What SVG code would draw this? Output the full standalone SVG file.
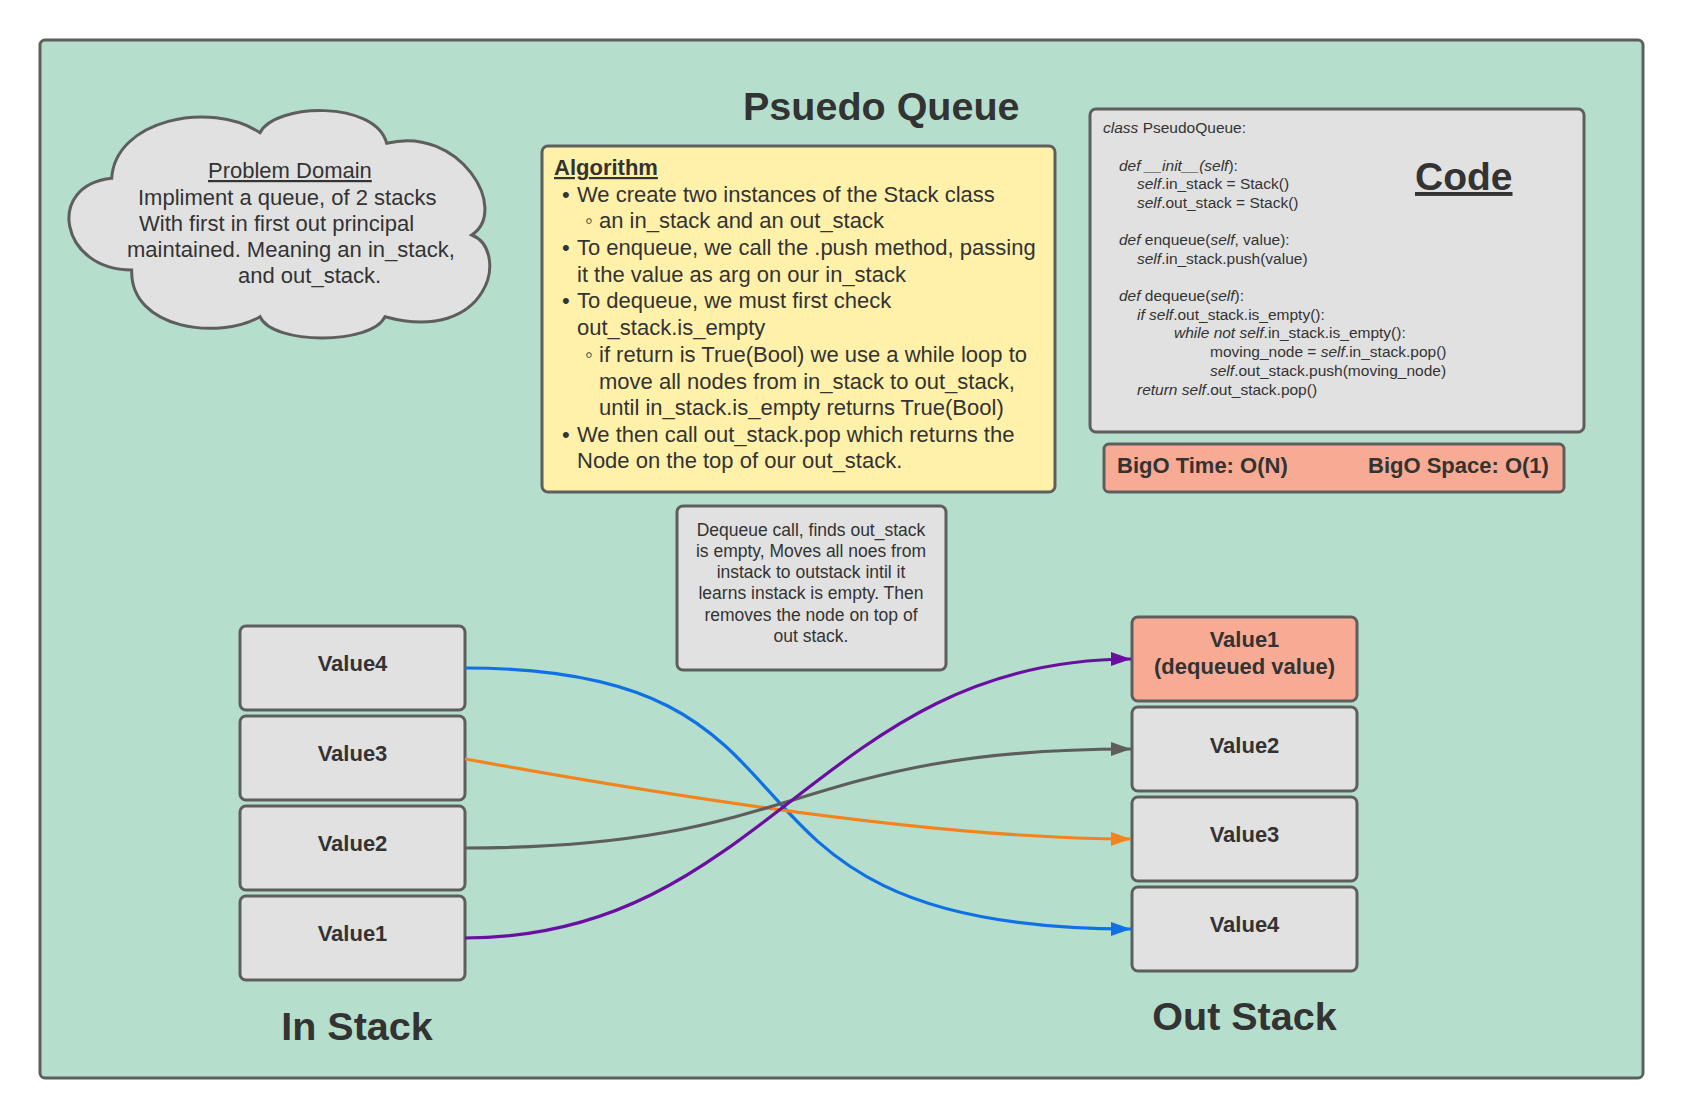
<svg xmlns="http://www.w3.org/2000/svg" width="1683" height="1118" viewBox="0 0 1683 1118">
<style>
text{font-family:"Liberation Sans",Arial,sans-serif;fill:#333333}
.box{fill:#e1e1e1;stroke:#5e5e5e;stroke-width:3}
.val{font-size:22px;font-weight:bold;text-anchor:middle}
.alg{font-size:22px}
.pd{font-size:22px}
.code{font-size:15.5px}
.note{font-size:17.5px;text-anchor:middle}
.big{font-size:39.5px;font-weight:bold;text-anchor:middle}
.con{fill:none;stroke-width:3.2}
.it{font-style:italic}
</style>
<defs>
<marker id="mBlue" markerUnits="userSpaceOnUse" markerWidth="22" markerHeight="16" refX="20" refY="7" orient="auto"><path d="M0,0 L20,7 L0,14 Z" fill="#1071e5"/></marker>
<marker id="mPurple" markerUnits="userSpaceOnUse" markerWidth="22" markerHeight="16" refX="20" refY="7" orient="auto"><path d="M0,0 L20,7 L0,14 Z" fill="#6a0fa0"/></marker>
<marker id="mGray" markerUnits="userSpaceOnUse" markerWidth="22" markerHeight="16" refX="20" refY="7" orient="auto"><path d="M0,0 L20,7 L0,14 Z" fill="#5e5e5e"/></marker>
<marker id="mOrange" markerUnits="userSpaceOnUse" markerWidth="22" markerHeight="16" refX="20" refY="7" orient="auto"><path d="M0,0 L20,7 L0,14 Z" fill="#f28420"/></marker>
</defs>
<rect width="1683" height="1118" fill="#ffffff"/>
<g id="frame"><rect x="40" y="40" width="1603" height="1038" rx="5" fill="#b5dfcc" stroke="#5e5e5e" stroke-width="3"/></g>

<g id="title"><text x="743" y="120" font-size="39.5" font-weight="bold" fill="#2e2e2e">Psuedo Queue</text></g>

<g id="problem-domain">
<path class="box" d="M131.7,270 C60,270 45,185 111.7,178.3 C115,120 210,100 260,132.7 C275,103 375,100 386.7,143.3 C460,125 510,210 471.7,235 C510,250 490,345 385,316.7 C372,345 272,345 260,316.7 C220,340 130,330 131.7,270 Z"/>
<text x="208" y="178" class="pd" text-decoration="underline">Problem Domain</text>
<text x="138" y="205" class="pd">Impliment a queue, of 2 stacks</text>
<text x="139" y="231" class="pd">With first in first out principal</text>
<text x="127" y="257" class="pd">maintained. Meaning an in_stack,</text>
<text x="238" y="283" class="pd">and out_stack.</text>
</g>

<g id="algorithm">
<rect x="542" y="146" width="513" height="346" rx="6" fill="#fff1a9" stroke="#5e5e5e" stroke-width="3"/>
<text x="554" y="175" class="alg" font-weight="bold" text-decoration="underline">Algorithm</text>
<text x="562" y="202" class="alg">•</text><text x="577" y="202" class="alg">We create two instances of the Stack class</text>
<text x="585" y="228" class="alg">◦</text><text x="599" y="228" class="alg">an in_stack and an out_stack</text>
<text x="562" y="255" class="alg">•</text><text x="577" y="255" class="alg">To enqueue, we call the .push method, passing</text>
<text x="577" y="282" class="alg">it the value as arg on our in_stack</text>
<text x="562" y="308" class="alg">•</text><text x="577" y="308" class="alg">To dequeue, we must first check</text>
<text x="577" y="335" class="alg">out_stack.is_empty</text>
<text x="585" y="362" class="alg">◦</text><text x="599" y="362" class="alg">if return is True(Bool) we use a while loop to</text>
<text x="599" y="389" class="alg">move all nodes from in_stack to out_stack,</text>
<text x="599" y="415" class="alg">until in_stack.is_empty returns True(Bool)</text>
<text x="562" y="442" class="alg">•</text><text x="577" y="442" class="alg">We then call out_stack.pop which returns the</text>
<text x="577" y="468" class="alg">Node on the top of our out_stack.</text>
</g>

<g id="code">
<rect x="1090" y="109" width="494" height="323" rx="6" class="box"/>
<text x="1415" y="190" font-size="39" font-weight="bold" text-decoration="underline">Code</text>
<text x="1103" y="133" class="code"><tspan class="it">class</tspan> PseudoQueue:</text>
<text x="1119" y="171" class="code"><tspan class="it">def __init__(self</tspan>):</text>
<text x="1137" y="189" class="code"><tspan class="it">self</tspan>.in_stack = Stack()</text>
<text x="1137" y="208" class="code"><tspan class="it">self</tspan>.out_stack = Stack()</text>
<text x="1119" y="245" class="code"><tspan class="it">def</tspan> enqueue(<tspan class="it">self</tspan>, value):</text>
<text x="1137" y="264" class="code"><tspan class="it">self</tspan>.in_stack.push(value)</text>
<text x="1119" y="301" class="code"><tspan class="it">def</tspan> dequeue(<tspan class="it">self</tspan>):</text>
<text x="1137" y="320" class="code"><tspan class="it">if self</tspan>.out_stack.is_empty():</text>
<text x="1174" y="338" class="code"><tspan class="it">while not self</tspan>.in_stack.is_empty():</text>
<text x="1210" y="357" class="code">moving_node = <tspan class="it">self</tspan>.in_stack.pop()</text>
<text x="1210" y="376" class="code"><tspan class="it">self</tspan>.out_stack.push(moving_node)</text>
<text x="1137" y="395" class="code"><tspan class="it">return self</tspan>.out_stack.pop()</text>
</g>

<g id="bigo">
<rect x="1104" y="444" width="460" height="48" rx="5" fill="#f7ab94" stroke="#5e5e5e" stroke-width="3"/>
<text x="1117" y="473" font-size="22" font-weight="bold">BigO Time: O(N)</text>
<text x="1368" y="473" font-size="22" font-weight="bold">BigO Space: O(1)</text>
</g>

<g id="note">
<rect x="677" y="506" width="269" height="164" rx="6" class="box"/>
<text x="811" y="536" class="note">Dequeue call, finds out_stack</text>
<text x="811" y="557" class="note">is empty, Moves all noes from</text>
<text x="811" y="578" class="note">instack to outstack intil it</text>
<text x="811" y="599" class="note">learns instack is empty. Then</text>
<text x="811" y="621" class="note">removes the node on top of</text>
<text x="811" y="642" class="note">out stack.</text>
</g>

<g id="in-value4"><rect x="240" y="626" width="225" height="84" rx="6" class="box"/><text x="352.5" y="671" class="val">Value4</text></g>
<g id="in-value3"><rect x="240" y="716" width="225" height="84" rx="6" class="box"/><text x="352.5" y="761" class="val">Value3</text></g>
<g id="in-value2"><rect x="240" y="806" width="225" height="84" rx="6" class="box"/><text x="352.5" y="851" class="val">Value2</text></g>
<g id="in-value1"><rect x="240" y="896" width="225" height="84" rx="6" class="box"/><text x="352.5" y="941" class="val">Value1</text></g>
<g id="in-stack-label"><text x="357" y="1040" class="big">In Stack</text></g>

<g id="out-value1"><rect x="1132" y="617" width="225" height="84" rx="6" fill="#f7ab94" stroke="#5e5e5e" stroke-width="3"/><text x="1244.5" y="647" class="val">Value1</text><text x="1244.5" y="674" class="val">(dequeued value)</text></g>
<g id="out-value2"><rect x="1132" y="707" width="225" height="84" rx="6" class="box"/><text x="1244.5" y="753" class="val">Value2</text></g>
<g id="out-value3"><rect x="1132" y="797" width="225" height="84" rx="6" class="box"/><text x="1244.5" y="842" class="val">Value3</text></g>
<g id="out-value4"><rect x="1132" y="887" width="225" height="84" rx="6" class="box"/><text x="1244.5" y="932" class="val">Value4</text></g>
<g id="out-stack-label"><text x="1244.5" y="1030" class="big">Out Stack</text></g>

<g id="connectors">
<path class="con" stroke="#1071e5" marker-end="url(#mBlue)" d="M465,668 C865,668 671,929 1131,929"/>
<path class="con" stroke="#f28420" marker-end="url(#mOrange)" d="M465,759 C475,760 881,839 1131,839"/>
<path class="con" stroke="#5e5e5e" marker-end="url(#mGray)" d="M465,848 C805,848 791,749 1131,749"/>
<path class="con" stroke="#6a0fa0" marker-end="url(#mPurple)" d="M465,938 C765,938 821,659 1131,659"/>
</g>
</svg>
